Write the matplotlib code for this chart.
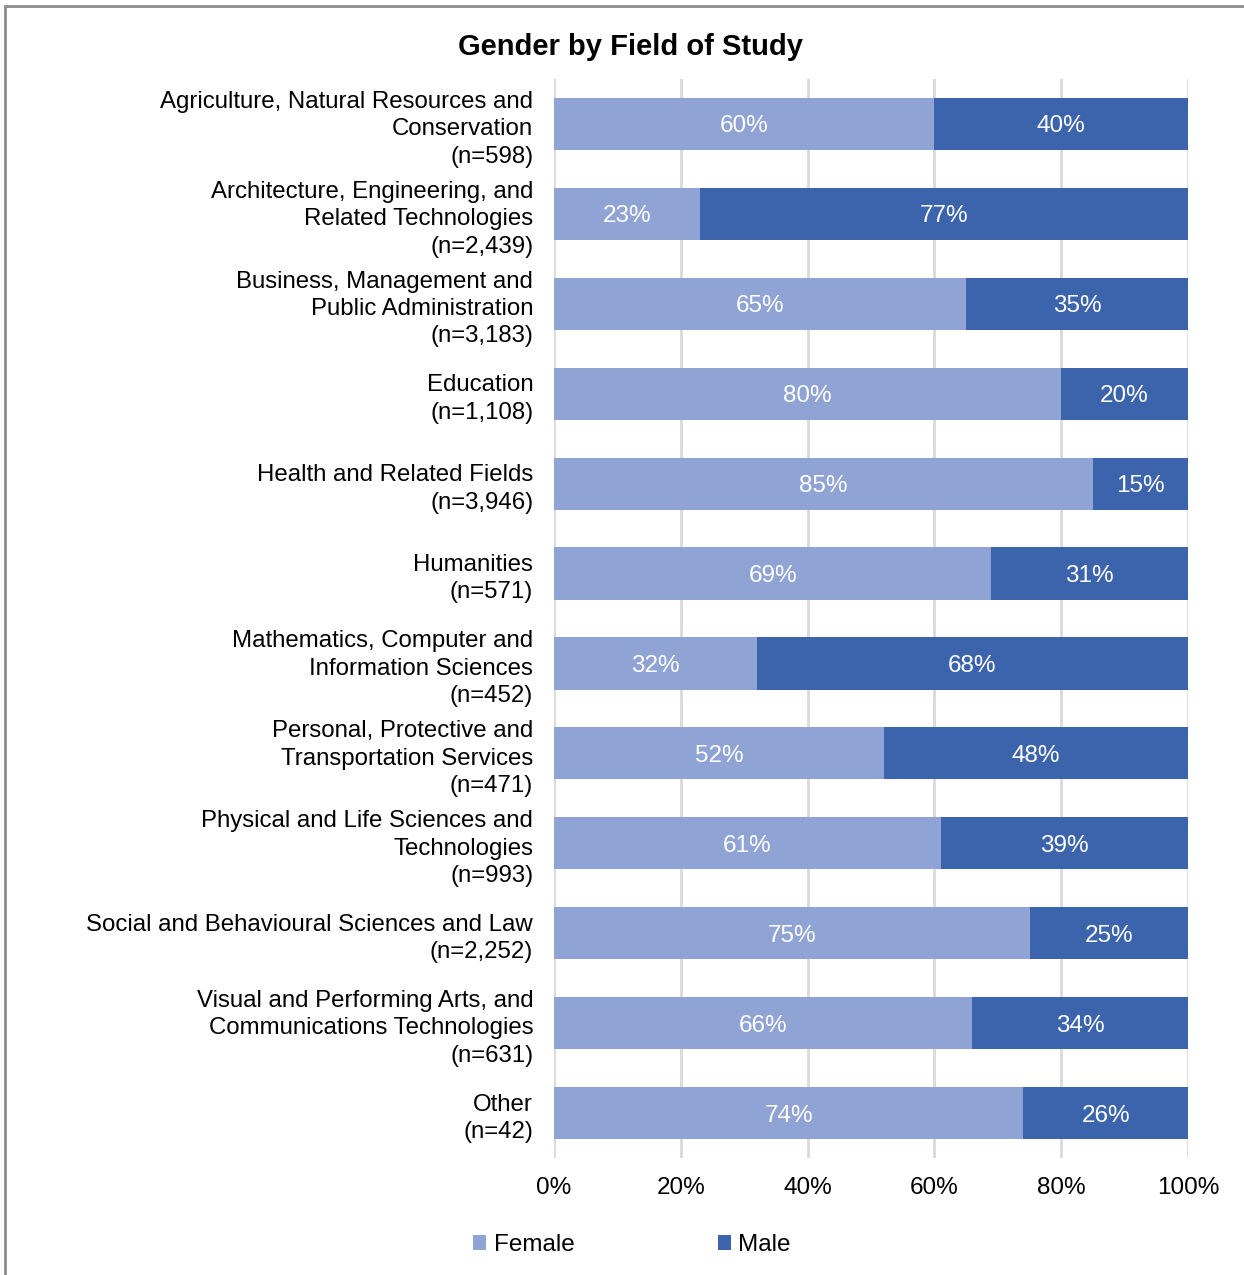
import matplotlib.pyplot as plt
import numpy as np
from matplotlib.patches import Rectangle

plt.rcParams['font.family'] = ['Liberation Sans', 'DejaVu Sans']

fields = [
    'Agriculture, Natural Resources and\nConservation\n(n=598)',
    'Architecture, Engineering, and\nRelated Technologies\n(n=2,439)',
    'Business, Management and\nPublic Administration\n(n=3,183)',
    'Education\n(n=1,108)',
    'Health and Related Fields\n(n=3,946)',
    'Humanities\n(n=571)',
    'Mathematics, Computer and\nInformation Sciences\n(n=452)',
    'Personal, Protective and\nTransportation Services\n(n=471)',
    'Physical and Life Sciences and\nTechnologies\n(n=993)',
    'Social and Behavioural Sciences and Law\n(n=2,252)',
    'Visual and Performing Arts, and\nCommunications Technologies\n(n=631)',
    'Other\n(n=42)',
]
female = [60, 23, 65, 80, 85, 69, 32, 52, 61, 75, 66, 74]
male = [40, 77, 35, 20, 15, 31, 68, 48, 39, 25, 34, 26]

c_female = '#8FA3D4'
c_male = '#3C64AD'

fig = plt.figure(figsize=(12.44, 12.75), dpi=100)
ax = fig.add_axes([554 / 1244, 1 - 1158 / 1275, 634 / 1244, 1079 / 1275])

y = np.arange(len(fields))
b1 = ax.barh(y, female, height=0.58, color=c_female, label='Female', zorder=3)
b2 = ax.barh(y, male, left=female, height=0.58, color=c_male, label='Male', zorder=3)

for bars in (b1, b2):
    txts = ax.bar_label(bars, labels=[f'{w:.0f}%' for w in bars.datavalues],
                        label_type='center', color='white', fontsize=17.5)
    for t in txts:
        t.set_va('center_baseline')

ax.set_xlim(0, 100)
ax.set_ylim(len(fields) - 0.5, -0.5)
ax.set_xticks(range(0, 101, 20))
ax.set_xticklabels([f'{v}%' for v in range(0, 101, 20)])
ax.set_yticks(y)
ax.set_yticklabels(fields, fontsize=17.3, linespacing=1.32, ha='right')
ax.tick_params(axis='x', length=0, pad=14, labelsize=17.5)
ax.tick_params(axis='y', length=0, pad=15)
ax.grid(axis='x', color='#D9D9D9', linewidth=2, zorder=0)
for s in ax.spines.values():
    s.set_visible(False)

fig.text(630 / 1244, 1 - 47 / 1275, 'Gender by Field of Study',
         ha='center', va='center', fontsize=21, fontweight='bold')

fig.legend(handles=[b1, b2], loc='center', bbox_to_anchor=(632 / 1244, 1 - 1245 / 1275),
           ncol=2, frameon=False, fontsize=17.5, handlelength=0.55, handleheight=0.55,
           handletextpad=0.3, columnspacing=5.9)

# outer chart border
fig.patches.append(Rectangle((5 / 1244, -0.05), 1.1, 1 - 6 / 1275 + 0.05,
                             transform=fig.transFigure, fill=False,
                             edgecolor='#8C8C8C', linewidth=2))

fig.savefig('out.png', dpi=100)
